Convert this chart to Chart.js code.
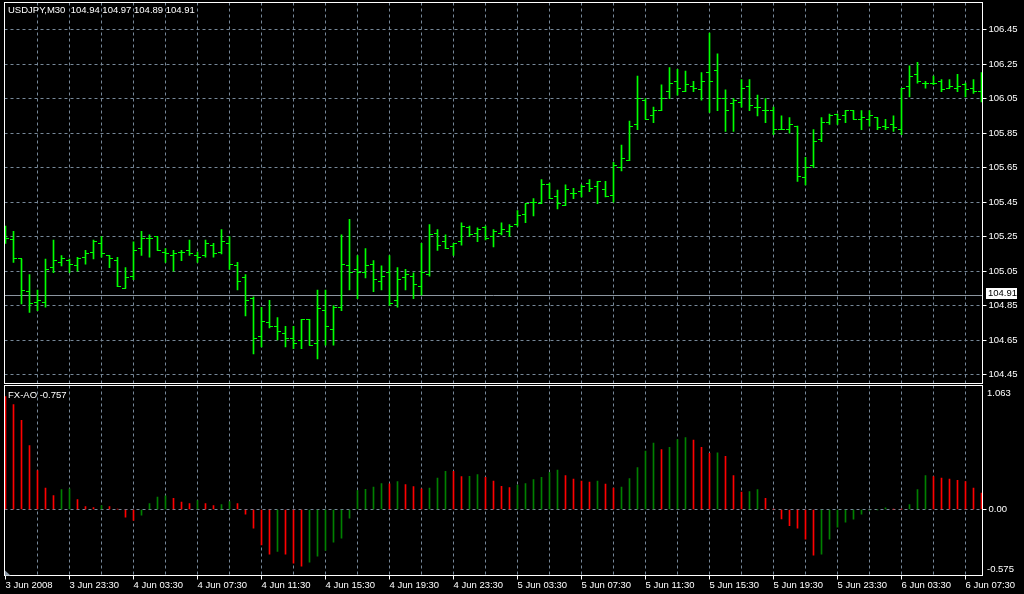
<!DOCTYPE html>
<html>
<head>
<meta charset="utf-8">
<script src="https://cdn.jsdelivr.net/npm/chart.js@4.4.1/dist/chart.umd.min.js"></script>
<style>
  html, body { margin: 0; padding: 0; background: #000; overflow: hidden; }
  #wrap { position: relative; width: 1024px; height: 594px; background: #000; }
  canvas { position: absolute; left: 0; }
  #priceChart { top: 0; }
  #aoChart { top: 384px; }
</style>
</head>
<body>
<div id="wrap">
  <canvas id="priceChart" width="1024" height="384"></canvas>
  <canvas id="aoChart" width="1024" height="210"></canvas>
</div>
<script>
// header / quote info
const symbol = 'USDJPY,M30';
const quote = [104.94, 104.97, 104.89, 104.91];
const bid = 104.91;
const aoName = 'FX-AO';
const aoLast = -0.757;

// one label every 8 bars (4 hours), bar 0 = 3 Jun 2008 19:30
const timeLabels = ['3 Jun 2008', '3 Jun 23:30', '4 Jun 03:30', '4 Jun 07:30', '4 Jun 11:30',
  '4 Jun 15:30', '4 Jun 19:30', '4 Jun 23:30', '5 Jun 03:30', '5 Jun 07:30', '5 Jun 11:30',
  '5 Jun 15:30', '5 Jun 19:30', '5 Jun 23:30', '6 Jun 03:30', '6 Jun 07:30'];

const priceTicks = [104.45, 104.65, 104.85, 105.05, 105.25, 105.45, 105.65, 105.85, 106.05, 106.25, 106.45];
const aoScaleLabels = ['1.063', '-0.575'];

const opens = [105.29, 105.23, 105.12, 104.93, 104.87, 104.87, 105.07, 105.10, 105.11, 105.08,
  105.13, 105.16, 105.21, 105.14, 105.11, 104.95, 105.02, 105.18, 105.24, 105.25,
  105.16, 105.14, 105.16, 105.17, 105.14, 105.14, 105.20, 105.16, 105.21, 105.08,
  105.01, 104.89, 104.67, 104.75, 104.73, 104.69, 104.66, 104.65, 104.77, 104.63,
  104.82, 104.71, 104.84, 105.08, 105.06, 105.04, 105.09, 104.99, 105.04, 104.88,
  105.01, 105.02, 104.96, 105.03, 105.27, 105.22, 105.19, 105.22, 105.30, 105.27,
  105.30, 105.25, 105.27, 105.28, 105.32, 105.38, 105.45, 105.44, 105.55, 105.48,
  105.43, 105.50, 105.51, 105.56, 105.54, 105.52, 105.49, 105.65, 105.69, 105.90,
  106.04, 105.95, 105.98, 106.09, 106.15, 106.09, 106.12, 106.10, 106.20, 106.21,
  106.05, 106.02, 106.03, 106.12, 106.00, 105.98, 105.98, 105.87, 105.87, 105.89,
  105.59, 105.66, 105.81, 105.91, 105.96, 105.95, 105.98, 105.93, 105.93, 105.94,
  105.89, 105.90, 105.87, 106.12, 106.19, 106.14, 106.14, 106.15, 106.11, 106.11,
  106.13, 106.11, 106.09];
const highs = [105.31, 105.28, 105.12, 105.03, 104.94, 105.12, 105.23, 105.14, 105.12, 105.13,
  105.17, 105.23, 105.25, 105.14, 105.13, 105.07, 105.22, 105.28, 105.26, 105.25,
  105.18, 105.17, 105.17, 105.23, 105.16, 105.23, 105.21, 105.29, 105.25, 105.10,
  105.03, 104.90, 104.84, 104.88, 104.78, 104.73, 104.73, 104.77, 104.77, 104.94,
  104.94, 104.85, 105.26, 105.35, 105.14, 105.18, 105.11, 105.08, 105.14, 105.07,
  105.06, 105.04, 105.21, 105.32, 105.29, 105.26, 105.21, 105.33, 105.31, 105.30,
  105.31, 105.29, 105.33, 105.32, 105.40, 105.44, 105.47, 105.58, 105.56, 105.52,
  105.55, 105.53, 105.55, 105.58, 105.57, 105.57, 105.68, 105.78, 105.92, 106.18,
  106.05, 106.00, 106.13, 106.23, 106.22, 106.21, 106.15, 106.20, 106.43, 106.31,
  106.10, 106.05, 106.16, 106.16, 106.07, 106.05, 106.00, 105.95, 105.94, 105.89,
  105.71, 105.87, 105.94, 105.96, 105.96, 105.98, 105.98, 105.98, 105.98, 105.94,
  105.93, 105.95, 106.11, 106.24, 106.26, 106.15, 106.18, 106.16, 106.16, 106.19,
  106.14, 106.16, 106.20];
const lows = [105.21, 105.10, 104.86, 104.81, 104.82, 104.84, 105.04, 105.08, 105.04, 105.05,
  105.09, 105.12, 105.13, 105.07, 104.96, 104.95, 105.00, 105.14, 105.13, 105.17,
  105.10, 105.05, 105.11, 105.14, 105.10, 105.13, 105.13, 105.15, 105.06, 104.94,
  104.79, 104.57, 104.61, 104.72, 104.65, 104.61, 104.60, 104.60, 104.62, 104.54,
  104.62, 104.62, 104.82, 104.94, 104.89, 105.01, 104.93, 104.94, 104.85, 104.84,
  104.94, 104.89, 104.91, 105.02, 105.17, 105.18, 105.14, 105.20, 105.25, 105.22,
  105.23, 105.19, 105.26, 105.25, 105.31, 105.33, 105.37, 105.44, 105.47, 105.41,
  105.43, 105.47, 105.48, 105.51, 105.44, 105.48, 105.45, 105.63, 105.69, 105.87,
  105.93, 105.91, 105.98, 106.05, 106.07, 106.09, 106.09, 106.04, 105.97, 105.98,
  105.86, 105.86, 106.00, 105.98, 105.95, 105.91, 105.84, 105.87, 105.85, 105.57,
  105.55, 105.65, 105.80, 105.90, 105.90, 105.91, 105.93, 105.87, 105.89, 105.87,
  105.87, 105.86, 105.84, 106.06, 106.14, 106.11, 106.13, 106.09, 106.11, 106.09,
  106.06, 106.08, 106.03];
const closes = [105.24, 105.12, 104.94, 104.86, 104.88, 105.06, 105.11, 105.12, 105.09, 105.12,
  105.15, 105.22, 105.15, 105.12, 104.96, 105.01, 105.17, 105.24, 105.24, 105.17,
  105.15, 105.15, 105.16, 105.15, 105.13, 105.21, 105.15, 105.22, 105.09, 104.99,
  104.88, 104.66, 104.76, 104.73, 104.70, 104.66, 104.63, 104.77, 104.62, 104.83,
  104.73, 104.84, 105.09, 105.04, 105.04, 105.08, 105.00, 105.02, 104.86, 105.00,
  105.03, 104.97, 105.04, 105.26, 105.20, 105.18, 105.21, 105.31, 105.26, 105.29,
  105.24, 105.28, 105.29, 105.31, 105.37, 105.44, 105.45, 105.55, 105.47, 105.44,
  105.52, 105.50, 105.54, 105.53, 105.57, 105.48, 105.66, 105.70, 105.89, 106.05,
  105.93, 105.98, 106.05, 106.14, 106.11, 106.13, 106.11, 106.15, 106.15, 106.05,
  105.98, 106.04, 106.11, 106.01, 106.00, 105.98, 105.87, 105.87, 105.90, 105.60,
  105.65, 105.80, 105.91, 105.95, 105.93, 105.98, 105.93, 105.94, 105.95, 105.88,
  105.88, 105.88, 106.11, 106.18, 106.15, 106.14, 106.14, 106.10, 106.12, 106.12,
  106.10, 106.09, 106.05];

const ao = [0.980, 0.910, 0.772, 0.555, 0.338, 0.185, 0.121, 0.173, 0.179, 0.087,
  0.026, 0.017, 0.035, 0.026, 0.002, -0.066, -0.095, -0.049, 0.052, 0.107,
  0.118, 0.098, 0.064, 0.052, 0.078, 0.052, 0.035, 0.043, 0.069, 0.052,
  -0.040, -0.162, -0.306, -0.387, -0.364, -0.387, -0.465, -0.491, -0.457, -0.405,
  -0.355, -0.283, -0.249, -0.075, 0.165, 0.176, 0.194, 0.225, 0.223, 0.243,
  0.217, 0.199, 0.179, 0.185, 0.272, 0.332, 0.330, 0.286, 0.288, 0.303,
  0.280, 0.246, 0.202, 0.191, 0.211, 0.225, 0.260, 0.280, 0.321, 0.341,
  0.295, 0.263, 0.246, 0.237, 0.246, 0.220, 0.185, 0.194, 0.269, 0.364,
  0.506, 0.575, 0.520, 0.540, 0.607, 0.624, 0.601, 0.540, 0.488, 0.492,
  0.460, 0.295, 0.152, 0.156, 0.173, 0.098, 0.002, -0.081, -0.139, -0.162,
  -0.257, -0.396, -0.387, -0.257, -0.153, -0.110, -0.084, -0.040, -0.006, -0.003,
  0.014, 0.003, 0.002, 0.043, 0.173, 0.295, 0.286, 0.272, 0.263, 0.254,
  0.243, 0.185, 0.142];

const BAR_COLOR = '#00ff00';
const AO_UP = '#008000';
const AO_DOWN = '#ff0000';
const GRID = '#778899';
const NONE = 'rgba(0,0,0,0)';
const FONT = { family: '"Liberation Sans", Arial, sans-serif', size: 9.5 };
const FONT_CSS = '9.5px "Liberation Sans", Arial, sans-serif';

const idx = opens.map((_, i) => i);
const xMin = -0.125, xMax = idx.length - 1 + 0.125;
const gridSteps = [];
for (let v = 0; v <= idx.length - 1; v += 4) gridSteps.push(v);

// small left / right tick images for open and close
function tickMark(side) {
  const c = document.createElement('canvas');
  c.width = 7; c.height = 1;
  const g = c.getContext('2d');
  g.fillStyle = BAR_COLOR;
  g.fillRect(side === 'left' ? 0 : 3, 0, 4, 1);
  return c;
}

// keep chart area exactly where the padding puts it
function noPad(s) {
  s.paddingTop = 0; s.paddingBottom = 0; s.paddingLeft = 0; s.paddingRight = 0;
}

function xScale(showLabels) {
  return {
    type: 'linear', min: xMin, max: xMax, offset: false,
    afterBuildTicks: s => { s.ticks = gridSteps.map(v => ({ value: v })); },
    ticks: {
      display: showLabels, color: '#fff', font: FONT, padding: 0, align: 'start',
      maxRotation: 0, autoSkip: false,
      callback: v => (v % 8 === 0 ? timeLabels[v / 8] : '')
    },
    grid: {
      offset: false, drawTicks: showLabels, tickLength: 4, tickBorderDash: [],
      color: c => (c.tick && c.tick.value === 0 ? NONE : GRID),
      tickColor: c => (c.tick && c.tick.value % 8 === 0 ? '#fff' : NONE)
    },
    border: { display: false, dash: [3, 3] },
    afterFit: s => { s.height = showLabels ? 18.5 : 0; noPad(s); }
  };
}

function yScale(min, max, ticks) {
  return {
    position: 'right', min: min, max: max,
    afterBuildTicks: s => { s.ticks = ticks.map(v => ({ value: v })); },
    ticks: { color: '#fff', font: FONT, padding: 2, callback: v => v.toFixed(2) },
    grid: { color: GRID, tickColor: '#fff', tickLength: 4, tickBorderDash: [] },
    border: { display: false, dash: [3, 3] },
    afterFit: s => { s.width = 41.5; noPad(s); }
  };
}

const priceDecor = {
  id: 'priceDecor',
  beforeDatasetsDraw(chart) {
    const { ctx, chartArea: a, scales: { y } } = chart;
    const py = Math.round(y.getPixelForValue(bid)) + 0.5;
    ctx.save();
    ctx.strokeStyle = '#8c96a0';
    ctx.lineWidth = 1;
    ctx.beginPath(); ctx.moveTo(a.left, py); ctx.lineTo(a.right, py); ctx.stroke();
    ctx.restore();
  },
  afterDraw(chart) {
    const { ctx, chartArea: a, scales: { y } } = chart;
    ctx.save();
    ctx.strokeStyle = '#fff';
    ctx.lineWidth = 1;
    ctx.strokeRect(a.left, a.top, a.right - a.left, a.bottom - a.top);
    const py = Math.round(y.getPixelForValue(bid));
    ctx.fillStyle = '#fff';
    ctx.fillRect(986, py - 7, 31, 11);
    ctx.font = FONT_CSS;
    ctx.textBaseline = 'middle';
    ctx.fillStyle = '#000';
    ctx.fillText(bid.toFixed(2), 988, py - 1.5);
    ctx.fillStyle = '#fff';
    ctx.fillText(symbol + '  ' + quote.map(q => q.toFixed(2)).join(' '), 8, 10.5);
    ctx.restore();
  }
};

const aoDecor = {
  id: 'aoDecor',
  afterDraw(chart) {
    const { ctx, chartArea: a } = chart;
    ctx.save();
    ctx.strokeStyle = '#fff';
    ctx.lineWidth = 1;
    ctx.strokeRect(a.left, a.top, a.right - a.left, a.bottom - a.top);
    // little scroll marker in the lower left corner
    ctx.fillStyle = '#8c9aa8';
    ctx.beginPath();
    ctx.moveTo(a.left + 0.5, a.bottom - 5); ctx.lineTo(a.left + 6, a.bottom); ctx.lineTo(a.left + 0.5, a.bottom);
    ctx.fill();
    ctx.font = FONT_CSS;
    ctx.fillStyle = '#fff';
    ctx.textBaseline = 'middle';
    ctx.fillText(aoScaleLabels[0], a.right + 4.5, a.top + 8);
    ctx.fillText(aoScaleLabels[1], a.right + 4.5, a.bottom - 6.5);
    ctx.fillText(aoName + ' ' + aoLast.toFixed(3), 8, 11);
    ctx.restore();
  }
};

new Chart(document.getElementById('priceChart'), {
  type: 'bar',
  data: {
    datasets: [
      { type: 'bar', data: idx.map(i => ({ x: i, y: [lows[i], highs[i]] })),
        backgroundColor: BAR_COLOR, barThickness: 1, borderWidth: 0 },
      { type: 'line', data: idx.map(i => ({ x: i, y: opens[i] })), showLine: false,
        pointStyle: tickMark('left'), pointRadius: 1, pointHoverRadius: 1 },
      { type: 'line', data: idx.map(i => ({ x: i, y: closes[i] })), showLine: false,
        pointStyle: tickMark('right'), pointRadius: 1, pointHoverRadius: 1 }
    ]
  },
  options: {
    responsive: false, animation: false, events: [],
    layout: { autoPadding: false, padding: { left: 4.5, top: 2.5, right: 0, bottom: 0.5 } },
    plugins: { legend: { display: false }, tooltip: { enabled: false } },
    scales: {
      x: xScale(false),
      y: yScale(104.398, 106.607, priceTicks)
    }
  },
  plugins: [priceDecor]
});

new Chart(document.getElementById('aoChart'), {
  type: 'bar',
  data: {
    datasets: [{
      data: idx.map(i => ({ x: i, y: ao[i] })),
      backgroundColor: idx.map(i => (i > 0 && ao[i] > ao[i - 1] ? AO_UP : AO_DOWN)),
      barThickness: 1, borderWidth: 0
    }]
  },
  options: {
    responsive: false, animation: false, events: [],
    layout: { autoPadding: false, padding: { left: 4.5, top: 1.5, right: 0, bottom: 0 } },
    plugins: { legend: { display: false }, tooltip: { enabled: false } },
    scales: {
      x: xScale(true),
      y: yScale(-0.572, 1.075, [0])
    }
  },
  plugins: [aoDecor]
});
</script>
</body>
</html>
